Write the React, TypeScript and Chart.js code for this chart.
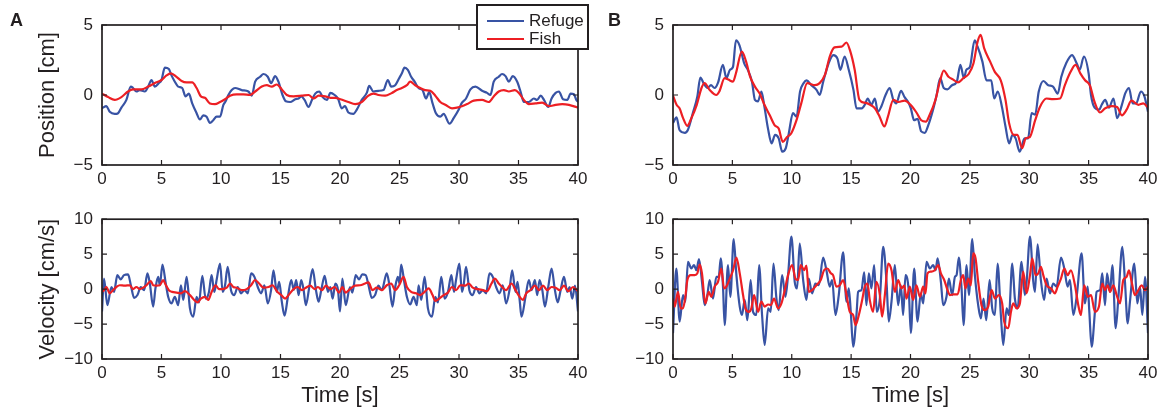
import React, { useEffect, useRef } from "react";
import { Chart, registerables } from "chart.js";

Chart.register(...registerables);

type Pt = [number, number];

// ---------- tick labels ----------
const timeTicks = [0, 5, 10, 15, 20, 25, 30, 35, 40];
const positionTicks = [-5, 0, 5];
const velocityTicks = [-10, -5, 0, 5, 10];

// ---------- Panel A: position [cm] vs time [s] ----------
const refugePosA: Pt[] = [
  [0, -0.95], [0.37, -0.8], [0.65, -1.2], [1.07, -1.35], [1.35, -1.3], [1.63, -0.9], [2.05, -0.35], [2.42, 0.6], [2.61, 0.5], [2.89, 0.25],
  [3.17, 0.35], [3.6, 0.25], [3.88, 0.6], [4.16, 1.07], [4.44, 0.6], [4.78, 0.85], [5.0, 1.07], [5.28, 1.95], [5.62, 1.85], [5.84, 1.4],
  [6.12, 0.95], [6.4, 0.6], [6.74, 0.5], [7.02, -0.1], [7.3, 0.1], [7.58, -0.6], [7.95, -1.3], [8.23, -1.75], [8.51, -1.45], [8.79, -1.55],
  [9.07, -2.0], [9.35, -1.8], [9.63, -1.55], [9.92, -1.55], [10.2, -0.7], [10.39, -0.45], [10.62, 0], [10.9, 0.35], [11.18, 0.5], [11.74, 0.35],
  [12.3, 0.25], [12.58, -0.05], [12.87, 0.95], [13.29, 1.3], [13.57, 1.5], [13.93, 1.3], [14.21, 0.85], [14.55, 1.35], [14.83, 0.95], [15.17, 0],
  [15.45, -0.45], [15.81, -0.5], [16.24, -0.3], [16.52, -0.25], [16.74, -0.1], [17.02, -0.35], [17.36, -0.85], [17.64, -0.35], [17.92, 0.1], [18.26, 0.25],
  [18.54, -0.15], [18.9, -0.35], [19.19, 0.15], [19.55, 0], [19.83, -0.25],
  [20.14, -0.95], [20.42, -0.8], [20.7, -1.25], [21.12, -1.35], [21.41, -1.05], [21.83, -0.35], [22.25, 0.15], [22.45, 0.65], [22.81, 0.25], [23.23, 0.3],
  [23.65, 0.35], [24.02, 1.07], [24.3, 0.6], [24.64, 0.7], [24.97, 1.2], [25.2, 1.55], [25.42, 1.95], [25.7, 1.8], [25.98, 1.3], [26.27, 0.95],
  [26.6, 0.5], [26.94, 0.35], [27.22, -0.25], [27.5, 0.2], [27.78, -0.6], [28.06, -1.3], [28.43, -1.55], [28.71, -1.35], [29.21, -2.05], [29.55, -1.65],
  [29.97, -1.05], [30.25, -0.55], [30.59, -0.25], [30.96, 0.4], [31.38, 0.6], [31.94, 0.3], [32.36, 0.15], [32.64, 0], [32.92, 0.95], [33.34, 1.3],
  [33.62, 1.5], [33.91, 1.35], [34.19, 0.95], [34.52, 1.35], [34.89, 0.95], [35.17, 0.25], [35.45, -0.5], [35.87, -0.5], [36.29, -0.25], [36.57, -0.35],
  [36.86, -0.05], [37.14, -0.35], [37.5, -0.85], [37.78, -0.25], [38.12, 0.15], [38.4, 0.25], [38.74, -0.3], [39.1, -0.35], [39.38, 0.1], [39.66, 0.05],
  [39.86, -0.35], [40, -0.5],
];

const fishPosA: Pt[] = [
  [0, 0.1], [0.51, -0.15], [1.07, -0.35], [1.63, -0.15], [2.19, 0.25], [2.61, 0.4], [3.31, 0.4], [3.88, 0.6], [4.44, 0.85], [5.0, 1.07],
  [5.42, 1.4], [5.79, 1.55], [6.26, 1.3], [6.69, 1.0], [7.11, 0.9], [7.58, 0.9], [7.95, 0.5], [8.31, -0.1], [8.65, -0.2], [9.07, -0.6],
  [9.49, -0.65], [9.92, -0.5], [10.34, -0.3], [10.76, -0.05], [11.32, 0.05], [11.88, 0.05], [12.44, 0], [12.87, 0.25], [13.43, 0.6], [13.85, 0.7],
  [14.27, 0.6], [14.69, 0.75], [15.11, 0.4], [15.53, 0], [16.1, -0.1], [16.8, -0.05], [17.36, 0], [17.78, -0.25], [18.2, -0.05], [18.76, -0.1],
  [19.19, -0.2], [19.61, -0.2], [20.03, -0.3], [20.7, -0.5], [21.27, -0.65], [21.83, -0.5], [22.39, -0.05], [22.81, 0.1], [23.23, 0], [23.79, -0.05],
  [24.36, 0.15], [24.78, 0.35], [25.2, 0.5], [25.62, 0.7], [25.9, 0.95], [26.32, 0.7], [26.74, 0.5], [27.16, 0.35], [27.59, 0.3], [28.01, -0.05],
  [28.43, -0.5], [28.85, -0.7], [29.41, -0.95], [29.83, -0.9], [30.25, -0.8], [30.68, -0.65], [31.24, -0.4], [31.94, -0.35], [32.5, -0.5], [32.92, -0.1],
  [33.34, 0.25], [33.77, 0.35], [34.19, 0.25], [34.69, 0.35], [35.03, 0.15], [35.45, -0.35], [35.87, -0.65], [36.43, -0.6], [36.99, -0.55], [37.56, -0.8],
  [38.12, -0.7], [38.68, -0.65], [39.24, -0.7], [40, -0.9],
];

// ---------- Panel B: position [cm] vs time [s] ----------
const refugePosB: Pt[] = [
  [0, -2.0], [0.3, -1.6], [0.55, -2.5], [1.0, -2.7], [1.25, -2.5], [1.7, -1.2], [2.05, -0.1], [2.3, 1.25], [2.6, 0.8], [2.9, 0.5],
  [3.2, 0.7], [3.5, 0.5], [3.8, 0.9], [4.2, 2.15], [4.5, 1.2], [4.8, 1.8], [5.05, 2.0], [5.3, 3.9], [5.6, 3.55], [6.0, 2.25],
  [6.3, 1.8], [6.65, 0.95], [6.9, -0.35], [7.15, -0.45], [7.45, 0.25], [7.7, -0.85], [8.0, -2.4], [8.3, -3.45], [8.6, -2.85], [8.9, -3.1],
  [9.2, -4.05], [9.5, -3.8], [9.75, -2.75], [10.1, -1.3], [10.4, -1.55], [10.7, 0.25], [11.0, 0.85], [11.25, 1.05], [11.65, 0.7], [12.1, 0.35],
  [12.35, 0], [12.65, 0.95], [13.1, 2.25], [13.5, 2.85], [13.85, 2.6], [14.1, 1.8], [14.45, 2.75], [14.8, 1.8], [15.2, 0.35], [15.45, -0.95],
  [15.9, -0.95], [16.15, -0.7], [16.4, -0.25], [16.7, -0.7], [17.0, -0.25], [17.25, -1.2], [17.55, -0.8], [17.9, 0], [18.25, 0.5], [18.55, -0.35],
  [18.8, -0.6], [19.2, 0.3], [19.5, -0.15], [19.8, -0.5],
  [20.03, -0.95], [20.3, -1.8], [20.6, -1.7], [20.9, -2.6], [21.2, -2.7], [21.5, -2.15], [21.9, -1.05], [22.2, 0], [22.5, 1.2], [22.8, 0.5],
  [23.1, 0.4], [23.5, 0.7], [23.9, 0.95], [24.2, 2.15], [24.5, 1.2], [24.7, 1.8], [25.0, 2.0], [25.4, 3.9], [25.65, 3.45], [26.05, 2.4],
  [26.4, 1.05], [26.8, 1.05], [27.05, -0.25], [27.35, 0.25], [27.7, -0.85], [28.0, -2.25], [28.3, -3.45], [28.6, -2.85], [28.85, -3.1], [29.2, -4.05],
  [29.6, -3.1], [29.9, -3.1], [30.2, -1.3], [30.5, -1.4], [30.8, 0.25], [31.2, 1.0], [31.6, 0.7], [32.0, 0.6], [32.4, 0.1], [32.7, 1.3],
  [33.1, 2.25], [33.6, 2.85], [34.0, 2.25], [34.25, 1.8], [34.6, 2.75], [35.0, 1.55], [35.2, 0], [35.5, -0.9], [35.9, -1.05], [36.1, -0.7],
  [36.4, -0.35], [36.7, -0.9], [37.1, -0.25], [37.4, -1.65], [37.8, -0.7], [38.1, 0.15], [38.4, 0.5], [38.7, -0.6], [39.0, -0.6], [39.4, 0.25],
  [39.7, -0.1], [40, -1.2],
];

const fishPosB: Pt[] = [
  [0, -0.05], [0.3, -0.7], [0.55, -0.95], [0.85, -1.65], [1.2, -2.2], [1.55, -1.65], [2.0, -0.7], [2.4, 0.5], [2.65, 0.85], [3.1, 0.35],
  [3.65, 0], [3.9, 0.25], [4.35, 1.2], [4.65, 1.1], [5.05, 0.95], [5.3, 1.55], [5.8, 3.1], [6.15, 2.4], [6.5, 1.3], [6.9, 0.6],
  [7.3, 0.1], [7.7, -0.7], [8.15, -1.45], [8.55, -2.15], [8.9, -2.4], [9.25, -3.35], [9.6, -3.0], [9.95, -2.75], [10.4, -1.8], [10.8, -0.6],
  [11.3, 0.85], [11.95, 0.7], [12.35, 0.85], [12.8, 1.45], [13.2, 2.75], [13.6, 3.4], [14.2, 3.45], [14.6, 3.75], [14.9, 3.2], [15.3, 1.8],
  [15.7, -0.35], [16.15, -0.55], [16.6, -0.7], [17.0, -0.95], [17.4, -1.55], [17.8, -2.25], [18.1, -1.55], [18.55, -0.35], [19.0, -0.5], [19.5, -0.4],
  [20.0, -0.7], [20.5, -1.25], [20.9, -1.8], [21.3, -1.9], [21.6, -1.45], [22.1, -0.35], [22.5, 1.05], [22.8, 1.75], [23.2, 1.3], [23.6, 1.1],
  [24.0, 0.9], [24.45, 1.2], [24.9, 1.5], [25.3, 2.25], [25.65, 3.8], [25.9, 4.3], [26.2, 3.35], [26.7, 2.4], [27.1, 1.65], [27.6, 1.05],
  [28.0, -0.35], [28.3, -2.0], [28.7, -2.85], [29.0, -2.85], [29.4, -3.8], [29.7, -3.1], [30.05, -3.0], [30.5, -1.8], [30.9, -0.85], [31.45, -0.25],
  [32.0, -0.3], [32.6, -0.25], [33.0, 0.7], [33.45, 1.6], [33.9, 2.15], [34.3, 1.55], [34.7, 1.05], [35.1, 0.7], [35.5, -0.5], [35.95, -1.25],
  [36.4, -0.95], [36.95, -0.8], [37.4, -0.85], [37.8, -1.45], [38.2, -1.05], [38.6, -0.4], [39.2, -0.7], [39.6, -0.6], [40, -0.9],
];

// ---------- Panel A: velocity [cm/s] vs time [s] ----------
const refugeVelA: Pt[] = [
  [0, -3.2], [0.17, 1.5], [0.45, -2.3], [0.79, 0.3], [1.01, -0.4], [1.29, 2.0], [1.57, 1.4], [1.85, 2.0], [2.19, 2.1], [2.42, 0.6],
  [2.7, -1.25], [2.98, -0.85], [3.26, 0.3], [3.54, -0.15], [3.82, 2.25], [4.02, 0.8], [4.3, -2.5], [4.49, 0.1], [4.72, 1.75], [4.86, 0.55],
  [5.08, 3.5], [5.34, 1.0], [5.56, -1.1], [5.84, -2.05], [6.12, -1.1], [6.4, -2.3], [6.63, 0.55], [6.83, -1.55], [7.11, 1.75], [7.39, -2.75],
  [7.67, -3.95], [7.95, -1.1], [8.15, -1.9], [8.43, 1.9], [8.71, -1.35], [8.99, -0.4], [9.21, 2.0], [9.44, -0.4], [9.63, 1.3], [9.92, 3.65],
  [10.14, -0.4], [10.34, 0.55], [10.56, 3.2], [10.84, -0.15], [11.12, -0.85], [11.4, 0.3], [11.69, -0.6], [11.97, -0.15], [12.25, -0.6], [12.53, 2.25],
  [12.81, 1.75], [13.09, 0.3], [13.37, -0.6], [13.65, 0.55], [13.93, -2.05], [14.21, -0.15], [14.41, 2.7], [14.69, -0.4], [14.89, 1.05], [15.11, -1.8],
  [15.34, -3.8], [15.62, -1.1], [15.9, 1.3], [16.12, -0.1], [16.32, 1.3], [16.52, -0.85], [16.74, 1.3], [16.94, -0.1], [17.13, -2.3], [17.42, 0.3],
  [17.7, 2.85], [17.98, -0.15], [18.2, -1.8], [18.43, -0.1], [18.71, 1.9], [18.99, -0.4], [19.19, 0.3], [19.38, -1.35], [19.61, 0.8], [19.83, -0.1],
  [20.0, -3.2], [20.2, 1.5], [20.48, -2.3], [20.84, 0.3], [21.04, -0.5], [21.32, 2.0], [21.6, 1.4], [21.88, 2.1], [22.16, 2.0], [22.39, 0.6],
  [22.67, -1.25], [22.95, -0.85], [23.23, 0.5], [23.51, -0.15], [23.93, 2.25], [24.13, 0.8], [24.41, -2.5], [24.64, 0.3], [24.86, 1.75], [25.0, 0.8],
  [25.14, 3.5], [25.4, 1.0], [25.62, -1.1], [25.9, -2.2], [26.18, -1.1], [26.46, -2.3], [26.6, 0.55], [26.83, -1.55], [27.11, 1.75], [27.39, -2.75],
  [27.73, -3.95], [28.01, -1.1], [28.23, -1.9], [28.51, 1.75], [28.79, -1.35], [29.07, -0.4], [29.36, 2.0], [29.58, -0.4], [29.75, 1.3], [30.03, 3.65],
  [30.25, -0.4], [30.39, 0.55], [30.59, 3.2], [30.87, -0.15], [31.15, -0.85], [31.43, 0.3], [31.72, -0.6], [32.0, -0.15], [32.28, -0.6], [32.56, 2.25],
  [32.84, 1.75], [33.12, 0.3], [33.4, -0.6], [33.68, 0.55], [33.96, -2.05], [34.24, -0.15], [34.47, 2.7], [34.75, -0.4], [34.92, 1.05], [35.11, -1.8],
  [35.25, -3.95], [35.59, -1.1], [35.87, 1.3], [36.1, -0.15], [36.38, 1.3], [36.57, -0.85], [36.77, 1.3], [37.0, -0.15], [37.22, -2.5], [37.5, 0.3],
  [37.78, 2.95], [38.06, -0.15], [38.29, -1.9], [38.54, -0.15], [38.82, 1.75], [39.1, -0.4], [39.3, 0.3], [39.52, -1.35], [39.75, 0.5], [40, -3.2],
];

const fishVelA: Pt[] = [
  [0, -0.4], [0.17, -0.15], [0.37, 0.3], [0.65, -0.6], [0.93, -0.15], [1.21, 0.3], [1.49, 0.55], [1.91, 0.5], [2.33, 0.55], [2.61, 0],
  [2.89, 0.3], [3.17, 0], [3.46, 0.2], [3.74, 0.55], [4.1, 1.15], [4.3, 0.55], [4.58, 0.5], [4.86, 0.55], [5.14, 1.3], [5.34, 0.65],
  [5.62, -0.15], [5.9, -0.4], [6.26, -0.5], [6.63, -0.6], [6.97, -0.3], [7.39, -0.85], [7.75, -1.55], [8.03, -1.9], [8.31, -1.35], [8.65, -1.1],
  [8.93, -1.55], [9.21, -0.4], [9.55, 0.55], [9.83, 0], [10.11, 0], [10.48, 0.2], [10.76, 0.8], [11.04, 0.3], [11.32, 0.2], [11.74, -0.15],
  [12.16, 0], [12.53, 0.55], [12.87, 1.3], [13.2, 0.8], [13.57, 0.2], [13.99, 0.3], [14.33, 0.55], [14.69, -0.3], [15.06, -0.85], [15.39, -1.35],
  [15.73, -0.75], [16.1, 0], [16.46, 0.3], [16.8, -0.15], [17.13, 0.2], [17.5, 0.5], [17.87, 0], [18.15, 0.3], [18.48, -0.15], [18.82, 0.5],
  [19.19, 0], [19.55, 0.3], [19.92, -0.5], [20.2, 0.3], [20.48, -0.5], [20.84, 0], [21.27, 0.5], [21.69, 0.55], [22.11, 0.8], [22.39, 0.95],
  [22.73, -0.15], [23.09, 0.2], [23.51, -0.15], [23.93, 0.55], [24.3, 0.8], [24.64, -0.15], [24.97, 0.55], [25.34, 1.75], [25.62, 0.3], [25.98, -0.4],
  [26.38, -0.6], [26.74, -0.85], [27.11, -0.4], [27.45, 0.1], [27.78, -0.85], [28.01, -1.7], [28.34, -1.35], [28.71, -0.85], [29.07, -0.5], [29.41, 0.3],
  [29.75, -0.15], [30.11, 0.55], [30.54, 0.5], [30.82, 0.8], [31.15, 0.2], [31.6, 0], [32.0, -0.15], [32.36, -0.3], [32.73, 0.8], [33.01, 1.5],
  [33.34, 0.8], [33.63, 0.3], [33.96, -0.15], [34.41, 0.8], [34.75, -0.15], [35.09, -1.1], [35.37, -1.55], [35.65, -0.6], [36.01, -0.15], [36.38, 0.5],
  [36.72, -0.15], [37.06, 0.5], [37.42, -0.15], [37.78, 0.3], [38.12, 0.2], [38.46, -0.15], [38.82, 0.5], [39.19, -0.3], [39.58, 0.3], [40, -0.3],
];

// ---------- Panel B: velocity [cm/s] vs time [s] ----------
const refugeVelB: Pt[] = [
  [0, -6.3], [0.28, 2.95], [0.56, -4.65], [0.84, -0.85], [1.04, -1.8], [1.26, 3.9], [1.54, 2.95], [1.77, 3.45], [1.97, 2.7], [2.19, 4.3],
  [2.44, 1.05], [2.67, -2.3], [2.89, -0.85], [3.09, 1.3], [3.37, -1.35], [3.65, 1.75], [3.85, 1.75], [4.02, 4.4], [4.21, 0.35], [4.35, -5.15],
  [4.63, 3.45], [4.83, -1.1], [5.11, 7.15], [5.34, 2.0], [5.62, -2.5], [5.81, -3.7], [6.04, -1.55], [6.26, -4.45], [6.54, 1.3], [6.74, -3.25],
  [7.02, -3.7], [7.25, 3.45], [7.5, -3.7], [7.72, -8.0], [8.01, -2.75], [8.23, -3.25], [8.46, 3.65], [8.71, -1.35], [8.9, -3.0], [9.19, 2.0],
  [9.47, -1.1], [9.69, 2.0], [9.97, 7.5], [10.25, 1.05], [10.45, 0.1], [10.67, 6.5], [10.96, 1.3], [11.24, -1.55], [11.43, 1.5], [11.71, -0.6],
  [11.99, 0.8], [12.28, 0.55], [12.64, 4.5], [12.92, 2.7], [13.2, 0.35], [13.4, 1.3], [13.68, -3.7], [13.96, -0.85], [14.33, 5.25], [14.61, -1.8],
  [14.8, 0.1], [14.97, -3.25], [15.17, -8.25], [15.45, -3.7], [15.59, -0.4], [15.87, -0.15], [16.1, 2.4], [16.29, -2.3], [16.49, 2.25], [16.71, 0.1],
  [16.94, 3.45], [17.16, -3.25], [17.42, -1.35], [17.7, 6.05], [17.98, 1.05], [18.17, -4.65], [18.4, -1.8], [18.68, 3.45], [18.96, -2.3], [19.19, 0.55],
  [19.38, -3.7], [19.58, 2.0], [19.86, -0.4],
  [20.03, -6.3], [20.31, 2.95], [20.59, -4.65], [20.87, -0.6], [21.07, -2.05], [21.35, 3.9], [21.63, 2.95], [21.91, 3.45], [22.11, 2.7], [22.28, 4.4],
  [22.56, 1.05], [22.75, -2.3], [23.03, -1.1], [23.23, 1.5], [23.51, -0.85], [23.74, 1.75], [23.88, 2.0], [24.07, 4.5], [24.3, 0.1], [24.47, -5.15],
  [24.72, 3.45], [24.92, -0.85], [25.2, 7.15], [25.42, 2.0], [25.7, -2.3], [25.93, -4.2], [26.15, -1.35], [26.38, -4.45], [26.66, 1.3], [26.88, -2.75],
  [27.11, -3.7], [27.33, 3.65], [27.61, -3.7], [27.81, -8.0], [28.09, -2.75], [28.29, -3.7], [28.57, 3.65], [28.79, -1.35], [29.02, -2.75], [29.35, 3.9],
  [29.63, -0.85], [29.78, 1.05], [30.06, 7.5], [30.34, 1.05], [30.48, -0.4], [30.7, 6.4], [30.98, 1.3], [31.26, -1.55], [31.46, 1.5], [31.74, -0.6],
  [32.02, 0.8], [32.3, 0.35], [32.67, 4.5], [32.95, 2.95], [33.23, 0.35], [33.43, 1.3], [33.71, -3.7], [33.99, -1.1], [34.41, 5.1], [34.69, -2.05],
  [34.92, 0.35], [35.06, -3.25], [35.25, -8.25], [35.53, -3.25], [35.67, -0.4], [35.96, -0.15], [36.15, 2.25], [36.38, -2.3], [36.55, 2.25], [36.8, -0.4],
  [37.0, 3.45], [37.28, -5.6], [37.5, -1.35], [37.84, 6.05], [38.06, 1.05], [38.29, -4.9], [38.48, -1.8], [38.85, 3.65], [39.1, -2.05], [39.33, 0.35],
  [39.52, -3.7], [39.75, 1.75], [40, -6.3],
];

const fishVelB: Pt[] = [
  [0, -1.35], [0.14, -2.5], [0.42, -0.4], [0.65, -2.75], [0.84, -2.75], [1.04, -1.1], [1.21, 1.3], [1.49, 2.0], [1.83, 2.0], [2.05, 2.25],
  [2.25, 3.5], [2.44, 2.25], [2.72, -2.05], [3.01, -0.4], [3.23, -1.1], [3.51, 0.35], [3.79, 1.05], [4.07, 2.95], [4.3, 0.1], [4.49, 0.35],
  [4.78, 1.5], [5.06, 2.7], [5.34, 4.5], [5.62, 2.25], [5.9, -0.85], [6.1, -2.75], [6.38, -3.25], [6.6, -2.75], [6.83, -0.85], [7.16, -3.25],
  [7.44, -1.8], [7.72, -2.5], [8.01, -2.2], [8.23, -2.3], [8.51, -1.35], [8.85, -2.75], [9.13, -2.05], [9.41, -0.15], [9.69, 2.0], [10.03, 3.45],
  [10.31, 1.5], [10.53, 1.3], [10.76, 3.45], [11.04, 2.7], [11.24, 3.35], [11.43, -0.4], [11.71, -0.15], [12.08, 0.55], [12.44, 1.3], [12.72, 2.7],
  [13.0, 2.95], [13.29, 2.25], [13.48, 2.0], [13.76, 0.35], [14.04, 0.55], [14.33, 1.3], [14.61, -0.85], [14.89, -3.25], [15.17, -3.7], [15.37, -5.15],
  [15.65, -3.7], [15.93, -1.55], [16.15, 0.35], [16.38, 0.8], [16.57, -1.55], [16.85, -3.25], [17.13, 1.05], [17.42, -0.85], [17.61, -3.95], [17.84, -0.85],
  [18.12, 3.65], [18.4, 2.7], [18.68, -0.4], [18.96, 1.3], [19.24, 0.1], [19.47, 0.5], [19.66, -1.35], [19.94, 0.35], [20.22, -1.55], [20.5, 0.55],
  [20.79, -1.1], [21.07, 0.35], [21.26, -0.6], [21.43, 2.25], [21.71, 2.5], [22.05, 2.7], [22.33, 3.45], [22.56, 2.25], [22.84, 1.3], [23.12, -0.15],
  [23.32, -0.85], [23.6, -0.75], [23.97, -0.75], [24.24, 1.3], [24.44, 2.0], [24.63, 0.1], [24.86, 1.5], [25.08, 0.55], [25.28, 5.1], [25.48, 4.4],
  [25.7, 1.05], [25.98, -2.3], [26.26, -3.0], [26.54, -2.5], [26.83, -0.15], [27.11, -1.35], [27.44, -0.85], [27.72, -2.05], [27.89, -4.65], [28.23, -5.6],
  [28.46, -3.25], [28.65, -2.05], [28.93, -2.75], [29.21, -2.05], [29.49, 2.5], [29.78, -0.6], [30.06, 2.0], [30.25, 4.4], [30.53, 2.0], [30.76, 2.25],
  [30.98, 3.2], [31.18, 2.0], [31.46, 0.55], [31.83, 0.1], [32.16, -0.6], [32.39, 0.35], [32.67, 1.5], [32.95, 2.95], [33.23, 2.0], [33.51, 2.7],
  [33.85, 0.55], [34.13, -2.3], [34.35, -3.7], [34.63, 0.55], [34.92, -1.1], [35.2, -0.85], [35.53, -3.25], [35.87, -2.5], [36.15, 0.8], [36.38, -0.15],
  [36.6, 0.55], [36.8, -0.4], [37.08, 0.55], [37.36, -0.85], [37.64, -2.05], [37.92, 1.3], [38.2, 1.75], [38.4, 2.7], [38.62, 1.05], [38.9, -0.85],
  [39.19, -0.15], [39.47, 0.55], [39.75, -0.15], [40, 0.35],
];

// ---------- styling ----------
const FONT = "'Liberation Sans', Arial, Helvetica, sans-serif";
const INK = "#231f20";
const BLUE = "#3853a4";
const RED = "#ed1f24";
const fmt = (v: number | string) => String(v).replace("-", "\u2212");

const framePlugin = {
  id: "matlabFrame",
  afterDatasetsDraw(chart: any) {
    const { ctx, chartArea: a, scales } = chart;
    const L = 5;
    ctx.save();
    ctx.strokeStyle = INK;
    ctx.lineWidth = 1.2;
    ctx.beginPath();
    scales.x.ticks.forEach((t: any) => {
      const px = scales.x.getPixelForValue(t.value);
      ctx.moveTo(px, a.bottom);
      ctx.lineTo(px, a.bottom - L);
      ctx.moveTo(px, a.top);
      ctx.lineTo(px, a.top + L);
    });
    scales.y.ticks.forEach((t: any) => {
      const py = scales.y.getPixelForValue(t.value);
      ctx.moveTo(a.left, py);
      ctx.lineTo(a.left + L, py);
      ctx.moveTo(a.right, py);
      ctx.lineTo(a.right - L, py);
    });
    ctx.stroke();
    ctx.lineWidth = 1.7;
    ctx.strokeRect(a.left, a.top, a.right - a.left, a.bottom - a.top);
    ctx.restore();
  },
};

type PanelProps = {
  left: number;
  top: number;
  width: number;
  height: number;
  refuge: Pt[];
  fish: Pt[];
  yMin: number;
  yMax: number;
  yTicks: number[];
  yTitle?: string;
  xTitle?: string;
  axisW: number;
  axisH: number;
  padTop: number;
  padRight: number;
};

function Panel(p: PanelProps) {
  const ref = useRef<HTMLCanvasElement>(null);
  useEffect(() => {
    const tickFont = { family: FONT, size: 17 };
    const titleFont = { family: FONT, size: 22 };
    const chart = new Chart(ref.current as HTMLCanvasElement, {
      type: "line",
      data: {
        datasets: [
          {
            label: "Fish",
            data: p.fish.map(([x, y]) => ({ x, y })),
            borderColor: RED,
            borderWidth: 2.2,
            pointRadius: 0,
            cubicInterpolationMode: "monotone",
            fill: false,
          },
          {
            label: "Refuge",
            data: p.refuge.map(([x, y]) => ({ x, y })),
            borderColor: BLUE,
            borderWidth: 2.2,
            pointRadius: 0,
            cubicInterpolationMode: "monotone",
            fill: false,
          },
        ],
      },
      options: {
        responsive: false,
        animation: false,
        events: [],
        layout: { padding: { top: p.padTop, right: p.padRight, left: 0, bottom: 0 } },
        plugins: { legend: { display: false }, tooltip: { enabled: false } },
        scales: {
          x: {
            type: "linear",
            min: 0,
            max: 40,
            afterBuildTicks: (s: any) => {
              s.ticks = timeTicks.map((v) => ({ value: v }));
            },
            afterFit: (s: any) => {
              s.height = p.axisH;
            },
            grid: { display: false, drawTicks: false },
            border: { display: false },
            ticks: {
              padding: 4,
              color: INK,
              font: tickFont,
              maxRotation: 0,
              autoSkip: false,
              callback: (v: any) => fmt(v),
            },
            title: {
              display: !!p.xTitle,
              text: p.xTitle || "",
              color: INK,
              font: titleFont,
              padding: { top: 0, bottom: 0 },
            },
          },
          y: {
            type: "linear",
            min: p.yMin,
            max: p.yMax,
            afterBuildTicks: (s: any) => {
              s.ticks = p.yTicks.map((v) => ({ value: v }));
            },
            afterFit: (s: any) => {
              s.width = p.axisW;
            },
            grid: { display: false, drawTicks: false },
            border: { display: false },
            ticks: {
              padding: 9,
              color: INK,
              font: tickFont,
              autoSkip: false,
              callback: (v: any) => fmt(v),
            },
            title: {
              display: !!p.yTitle,
              text: p.yTitle || "",
              color: INK,
              font: titleFont,
              padding: { top: 35, bottom: 0 },
            },
          },
        },
      } as any,
      plugins: [framePlugin],
    });
    return () => chart.destroy();
  }, []);
  return (
    <canvas
      ref={ref}
      width={p.width}
      height={p.height}
      style={{ position: "absolute", left: p.left, top: p.top, width: p.width, height: p.height }}
    />
  );
}

const labelStyle: React.CSSProperties = {
  position: "absolute",
  fontFamily: FONT,
  fontWeight: "bold",
  fontSize: 18,
  lineHeight: "18px",
  color: INK,
};

const legendText: React.CSSProperties = {
  position: "absolute",
  left: 51,
  fontFamily: FONT,
  fontSize: 17,
  lineHeight: "17px",
  color: INK,
};

export default function App() {
  return (
    <div
      style={{
        position: "fixed",
        left: 0,
        top: 0,
        width: 1166,
        height: 409,
        background: "#ffffff",
        overflow: "hidden",
      }}
    >
      <Panel left={0} top={0} width={595} height={200} refuge={refugePosA} fish={fishPosA}
        yMin={-5} yMax={5} yTicks={positionTicks} yTitle="Position [cm]" axisW={102} axisH={35} padTop={25} padRight={17} />
      <Panel left={0} top={200} width={595} height={209} refuge={refugeVelA} fish={fishVelA}
        yMin={-10} yMax={10} yTicks={velocityTicks} yTitle="Velocity [cm/s]" xTitle="Time [s]" axisW={102} axisH={50} padTop={19} padRight={17} />
      <Panel left={595} top={0} width={571} height={200} refuge={refugePosB} fish={fishPosB}
        yMin={-5} yMax={5} yTicks={positionTicks} axisW={78} axisH={35} padTop={25} padRight={18} />
      <Panel left={595} top={200} width={571} height={209} refuge={refugeVelB} fish={fishVelB}
        yMin={-10} yMax={10} yTicks={velocityTicks} xTitle="Time [s]" axisW={78} axisH={50} padTop={19} padRight={18} />

      <div style={{ ...labelStyle, left: 10, top: 11 }}>A</div>
      <div style={{ ...labelStyle, left: 608, top: 11 }}>B</div>

      <div
        style={{
          position: "absolute",
          left: 476,
          top: 4,
          width: 113,
          height: 46,
          boxSizing: "border-box",
          border: `2px solid ${INK}`,
          background: "#ffffff",
        }}
      >
        <div style={{ position: "absolute", left: 9, top: 14, width: 37, height: 2.4, background: BLUE }} />
        <div style={{ ...legendText, top: 6 }}>Refuge</div>
        <div style={{ position: "absolute", left: 9, top: 32, width: 37, height: 2.4, background: RED }} />
        <div style={{ ...legendText, top: 24 }}>Fish</div>
      </div>
    </div>
  );
}
